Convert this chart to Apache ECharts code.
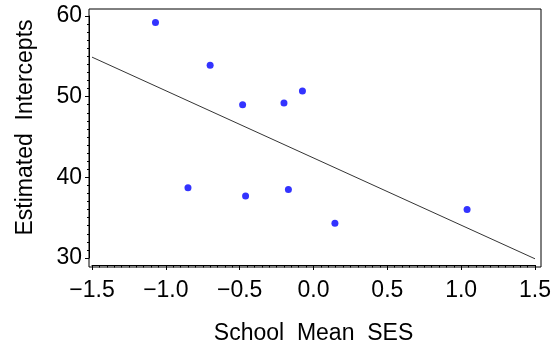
<!DOCTYPE html>
<html>
<head>
<meta charset="utf-8">
<script src="https://cdn.jsdelivr.net/npm/echarts@6/dist/echarts.min.js"></script>
<style>
  html, body { margin: 0; padding: 0; background: #fff; }
  #chart { width: 554px; height: 350px; }
</style>
</head>
<body>
<div id="chart"></div>
<script>
// school mean SES vs estimated intercept, one point per school
var sesX = [-1.07, -0.70, -0.48, -0.20, -0.075, -0.85, -0.46, -0.17, 0.145, 1.04];
var interceptY = [59.2, 53.9, 49.0, 49.2, 50.7, 38.7, 37.7, 38.5, 34.3, 36.0];
// fitted regression line end points
var fitX = [-1.5, 1.5];
var fitY = [54.9, 29.9];
var xTicks = [-1.5, -1.0, -0.5, 0.0, 0.5, 1.0, 1.5];
var yTicks = [30, 40, 50, 60];

var font = 'Liberation Sans, Arial, sans-serif';
var minus = function (s) { return s.replace('-', '\u2212'); };

var points = sesX.map(function (x, i) { return [x, interceptY[i]]; });
var fitLine = fitX.map(function (x, i) { return [x, fitY[i]]; });

var myChart = echarts.init(document.getElementById('chart'));
myChart.setOption({
  backgroundColor: '#fff',
  animation: false,
  grid: [
    // frame around the plot
    { left: 89, top: 9, right: 13, bottom: 83, show: true, borderColor: '#000', borderWidth: 1, backgroundColor: 'transparent' },
    // data area, ticks span only -1.5..1.5 and 30..60
    { left: 92, right: 17, top: 16, bottom: 88 }
  ],
  xAxis: [
    { gridIndex: 0, type: 'value', show: false, min: 0, max: 1 },
    {
      gridIndex: 1,
      type: 'value',
      min: xTicks[0],
      max: xTicks[xTicks.length - 1],
      interval: 0.5,
      offset: 7,
      axisLine: { show: true, onZero: false, lineStyle: { color: '#000', width: 1 } },
      axisTick: { show: true, inside: false, length: 5, lineStyle: { color: '#000' } },
      minorTick: { show: true, splitNumber: 10, length: 2.5, lineStyle: { color: '#000' } },
      splitLine: { show: false },
      axisLabel: {
        margin: 14,
        color: '#000',
        fontFamily: font,
        fontSize: 23,
        formatter: function (v) { return minus(v.toFixed(1)); }
      },
      name: 'School  Mean  SES',
      nameLocation: 'middle',
      nameGap: 57,
      nameTextStyle: { color: '#000', fontFamily: font, fontSize: 23 }
    }
  ],
  yAxis: [
    { gridIndex: 0, type: 'value', show: false, min: 0, max: 1 },
    {
      gridIndex: 1,
      type: 'value',
      min: yTicks[0],
      max: yTicks[yTicks.length - 1],
      interval: 10,
      offset: 3,
      axisLine: { show: true, onZero: false, lineStyle: { color: '#000', width: 1 } },
      axisTick: { show: true, inside: false, length: 4, lineStyle: { color: '#000' } },
      minorTick: { show: true, splitNumber: 10, length: 2, lineStyle: { color: '#000' } },
      splitLine: { show: false },
      axisLabel: { margin: 7, color: '#000', fontFamily: font, fontSize: 23 },
      name: 'Estimated  Intercepts',
      nameLocation: 'middle',
      nameGap: 52,
      nameTextStyle: { color: '#000', fontFamily: font, fontSize: 23, padding: [0, 0, 0, 19] }
    }
  ],
  series: [
    {
      type: 'line',
      xAxisIndex: 1,
      yAxisIndex: 1,
      data: fitLine,
      clip: false,
      symbol: 'none',
      lineStyle: { color: '#000', width: 0.8 }
    },
    {
      type: 'scatter',
      xAxisIndex: 1,
      yAxisIndex: 1,
      data: points,
      symbol: 'circle',
      symbolSize: 7,
      itemStyle: { color: '#0000ff' }
    }
  ]
});
</script>
</body>
</html>
